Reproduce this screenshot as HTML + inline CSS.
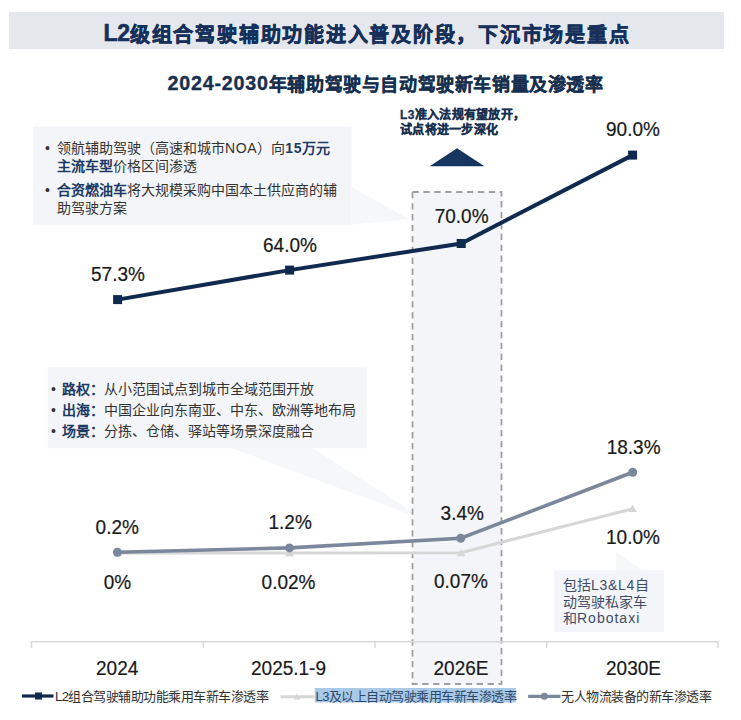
<!DOCTYPE html>
<html lang="zh-CN"><head><meta charset="utf-8">
<style>
html,body{margin:0;padding:0;background:#fff;}
body{width:741px;height:720px;position:relative;overflow:hidden;font-family:"Liberation Sans",sans-serif;}
.a{position:absolute;white-space:nowrap;line-height:1;}
svg{position:absolute;left:0;top:0;}
.t{color:#17304f;font-weight:bold;}
.lbl{font-size:19px;color:#1a1a1a;transform:scaleY(1.09);transform-origin:0 0;-webkit-text-stroke:0.2px #1a1a1a;}
.cat{font-size:19px;color:#1a1a1a;transform:scaleY(1.06);transform-origin:0 0;-webkit-text-stroke:0.2px #1a1a1a;}
.c1{font-size:14px;color:#333;}
.c1 b{color:#1c3a63;}
.c3{font-size:14px;color:#3e4c67;line-height:16.5px;white-space:normal;}
.lg{font-size:13px;letter-spacing:-0.5px;color:#2f2f2f;}
</style></head>
<body>
<svg width="741" height="720" viewBox="0 0 741 720">
  <!-- header bar -->
  <rect x="9" y="12" width="715" height="37" fill="#e4e7eb"/>
  <!-- callout 1 -->
  <rect x="33" y="126.5" width="318.5" height="98.8" fill="#f4f5f8"/>
  <polygon points="351.5,187 409,219 346,225.3 351.5,225.3" fill="#f6f7f9"/>
  <!-- callout 2 -->
  <rect x="47.8" y="367.2" width="318.9" height="81.1" fill="#f4f5f8"/>
  <polygon points="313,448.3 425,520 232,448.3" fill="#f6f7f9"/>
  <!-- dashed box -->
  <rect x="412.5" y="192" width="89" height="492" fill="#f3f5f8" stroke="#a0a0a0" stroke-width="1.8" stroke-dasharray="6.3,4.6"/>
  <!-- callout 3 -->
  <rect x="554" y="570" width="110" height="62" fill="#f4f5f8"/>
  <polygon points="616,570 616,552 642,570" fill="#f6f7f9"/>
  <!-- triangle -->
  <polygon points="429.7,166.2 457,148.2 484.5,166.2" fill="#17365f"/>
  <!-- axis -->
  <g stroke="#d9d9d9" stroke-width="1.5" fill="none">
    <line x1="31.5" y1="641.7" x2="718" y2="641.7"/>
    <line x1="31.5" y1="641" x2="31.5" y2="648"/>
    <line x1="203.5" y1="641" x2="203.5" y2="648"/>
    <line x1="375" y1="641" x2="375" y2="648"/>
    <line x1="546.7" y1="641" x2="546.7" y2="648"/>
    <line x1="718" y1="641" x2="718" y2="648"/>
  </g>
  <!-- light gray L3 series -->
  <polyline points="117.5,553 289.5,552.9 461,552.7 632.5,508.8" fill="none" stroke="#d6d6d6" stroke-width="3"/>
  <g fill="#d6d6d6">
    <polygon points="113,556.5 117.5,549 122,556.5"/>
    <polygon points="285,556.5 289.5,549 294,556.5"/>
    <polygon points="456.5,556.3 461,548.8 465.5,556.3"/>
    <polygon points="628.5,512 632.5,504.6 637,512"/>
  </g>
  <!-- gray-blue series -->
  <polyline points="117.4,552.3 289.5,547.9 460.7,538.3 632.7,472.3" fill="none" stroke="#7b879b" stroke-width="3.6"/>
  <g fill="#7b879b">
    <circle cx="117.4" cy="552.3" r="4.5"/>
    <circle cx="289.5" cy="547.9" r="4.5"/>
    <circle cx="460.7" cy="538.3" r="4.5"/>
    <circle cx="632.7" cy="472.3" r="4.5"/>
  </g>
  <!-- navy series -->
  <polyline points="117.6,299.6 289.6,270.1 461.2,243.5 632.6,155.1" fill="none" stroke="#0f2a4e" stroke-width="4"/>
  <g fill="#0f2a4e">
    <rect x="113.1" y="295.1" width="9" height="9"/>
    <rect x="285.1" y="265.6" width="9" height="9"/>
    <rect x="456.7" y="239" width="9" height="9"/>
    <rect x="628.1" y="150.6" width="9" height="9"/>
  </g>
  <!-- legend -->
  <line x1="22" y1="696" x2="53.5" y2="696" stroke="#0f2a4e" stroke-width="3.2"/>
  <rect x="35" y="692.5" width="7" height="7" fill="#0f2a4e"/>
  <rect x="314.7" y="688" width="201.3" height="14.5" fill="#a9c9e6"/>
  <line x1="280.5" y1="696.7" x2="314" y2="696.7" stroke="#d6d6d6" stroke-width="3"/>
  <polygon points="293.5,699.5 297,693.5 300.5,699.5" fill="#d6d6d6"/>
  <line x1="528.1" y1="696.3" x2="560.5" y2="696.3" stroke="#7b879b" stroke-width="3.2"/>
  <circle cx="544.3" cy="696.3" r="3.5" fill="#7b879b"/>
</svg>

<!-- titles -->
<div class="a t" style="left:103.5px;top:22px;font-size:20px;letter-spacing:1.76px;color:#16305a;-webkit-text-stroke:0.6px #16305a;"><span style="font-size:23px;letter-spacing:-0.2px;vertical-align:1px">L2</span>级组合驾驶辅助功能进入普及阶段，下沉市场是重点</div>
<div class="a t" style="left:167.5px;top:73.5px;font-size:18px;letter-spacing:0.6px;-webkit-text-stroke:0.35px #17304f;"><span style="font-size:19.7px;letter-spacing:0.8px;vertical-align:0.5px;">2024-2030</span>年辅助驾驶与自动驾驶新车销量及渗透率</div>

<!-- callout 1 -->
<div class="a c1" style="left:45px;top:140px;line-height:17.5px;">•</div>
<div class="a c1" style="left:57px;top:140px;line-height:17.5px;">领航辅助驾驶（高速和城市<span style="letter-spacing:0.6px">NOA</span>）向<b><span style="letter-spacing:0.8px">15</span>万元</b><br><b>主流车型</b>价格区间渗透</div>
<div class="a c1" style="left:45px;top:182px;line-height:17.5px;">•</div>
<div class="a c1" style="left:57px;top:182px;line-height:17.5px;"><b>合资燃油车</b>将大规模采购中国本土供应商的辅<br>助驾驶方案</div>

<!-- L3 annotation -->
<div class="a t" style="left:400px;top:108px;font-size:12px;letter-spacing:0.3px;line-height:15.2px;-webkit-text-stroke:0.3px #17304f;">L3准入法规有望放开，<br>试点将进一步深化</div>

<!-- callout 2 -->
<div class="a c1" style="left:51px;top:379px;line-height:21px;">•<br>•<br>•</div>
<div class="a c1" style="left:61.6px;top:379px;line-height:21px;"><b>路权：</b><br><b>出海：</b><br><b>场景：</b></div>
<div class="a c1" style="left:103.7px;top:379px;line-height:21px;">从小范围试点到城市全域范围开放<br>中国企业向东南亚、中东、欧洲等地布局<br>分拣、仓储、驿站等场景深度融合</div>

<!-- callout 3 -->
<div class="a c3" style="left:563px;top:577px;width:110px;">包括<span style="letter-spacing:0.7px">L3&amp;L4</span>自<br>动驾驶私家车<br>和<span style="letter-spacing:1px">Robotaxi</span></div>

<!-- data labels -->
<div class="a lbl" style="left:91px;top:264px;">57.3%</div>
<div class="a lbl" style="left:263px;top:235px;">64.0%</div>
<div class="a lbl" style="left:434.7px;top:206px;">70.0%</div>
<div class="a lbl" style="left:606px;top:119px;">90.0%</div>
<div class="a lbl" style="left:95.6px;top:517px;">0.2%</div>
<div class="a lbl" style="left:268.5px;top:512px;">1.2%</div>
<div class="a lbl" style="left:440.6px;top:502.7px;">3.4%</div>
<div class="a lbl" style="left:606.7px;top:437px;">18.3%</div>
<div class="a lbl" style="left:103.7px;top:572px;">0%</div>
<div class="a lbl" style="left:261.6px;top:572px;">0.02%</div>
<div class="a lbl" style="left:434px;top:571px;">0.07%</div>
<div class="a lbl" style="left:606px;top:527px;">10.0%</div>

<!-- categories -->
<div class="a cat" style="left:96px;top:658px;">2024</div>
<div class="a cat" style="left:251px;top:658px;">2025.1-9</div>
<div class="a cat" style="left:433.5px;top:658px;">2026E</div>
<div class="a cat" style="left:606px;top:658px;">2030E</div>

<!-- legend text -->
<div class="a lg" style="left:55px;top:690px;">L2组合驾驶辅助功能乘用车新车渗透率</div>
<div class="a lg" style="left:315.5px;top:690px;color:#2e4a6a;">L3及以上自动驾驶乘用车新车渗透率</div>
<div class="a lg" style="left:561px;top:690px;">无人物流装备的新车渗透率</div>
</body></html>
